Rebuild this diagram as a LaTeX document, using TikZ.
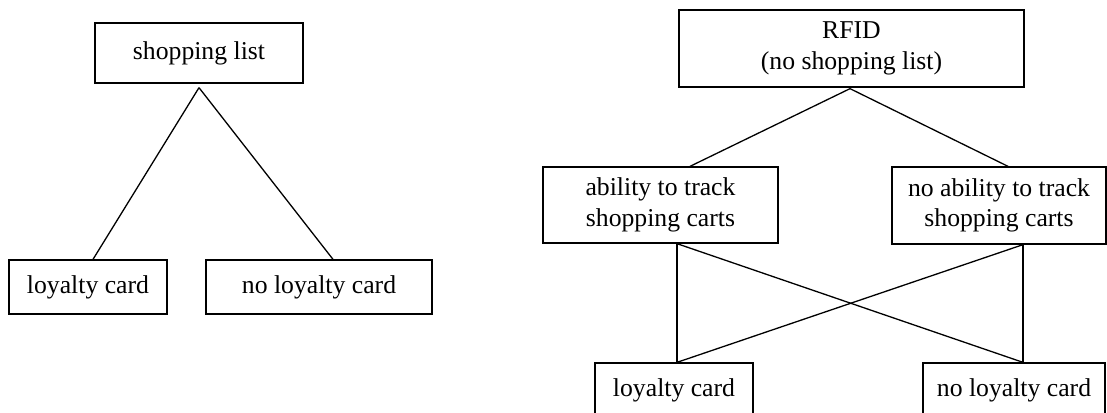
\documentclass[tikz,border=0pt]{standalone}
\usepackage{fontspec}
\setmainfont{Liberation Serif}
\begin{document}
\begin{tikzpicture}[x=1pt,y=-1pt,
  box/.style={draw,rectangle,line width=1.3pt,inner sep=0pt,align=center,
    font=\fontsize{25.7}{30.6}\selectfont},
  link/.style={line width=1.3pt}]
\useasboundingbox (0,0) rectangle (1107,412);
% left tree
\node[box,minimum width=208pt,minimum height=60pt] (sl) at (199,53) {shopping list};
\node[box,minimum width=158pt,minimum height=54pt] (lcA) at (88,287) {loyalty card};
\node[box,minimum width=226pt,minimum height=54pt] (nlcA) at (319,287) {no loyalty card};
\draw[link] ([yshift=-4pt]sl.south) -- ([xshift=5pt]lcA.north);
\draw[link] ([yshift=-4pt]sl.south) -- ([xshift=14pt]nlcA.north);
% right tree
\node[box,minimum width=345pt,minimum height=77pt] (rfid) at (851.5,48.5) {RFID\\(no shopping list)};
\node[box,minimum width=235pt,minimum height=76pt] (abil) at (660.5,205) {ability to track\\shopping carts};
\node[box,minimum width=214pt,minimum height=77pt] (noab) at (999,205.5) {no ability to track\\shopping carts};
\node[box,minimum width=158pt,minimum height=54pt] (lcB) at (674,390) {loyalty card};
\node[box,minimum width=182pt,minimum height=54pt] (nlcB) at (1014,390) {no loyalty card};
\draw[link] ([xshift=-1.5pt,yshift=-1pt]rfid.south) -- ([xshift=29.5pt]abil.north);
\draw[link] ([xshift=-1.5pt,yshift=-1pt]rfid.south) -- ([xshift=9pt]noab.north);
\draw[link] ([xshift=16.5pt]abil.south) -- ([xshift=3pt]lcB.north);
\draw[link] ([xshift=16.5pt]abil.south) -- ([xshift=9pt]nlcB.north);
\draw[link] ([xshift=24pt]noab.south) -- ([xshift=9pt]nlcB.north);
\draw[link] ([xshift=24pt]noab.south) -- ([xshift=3pt]lcB.north);
\end{tikzpicture}
\end{document}
